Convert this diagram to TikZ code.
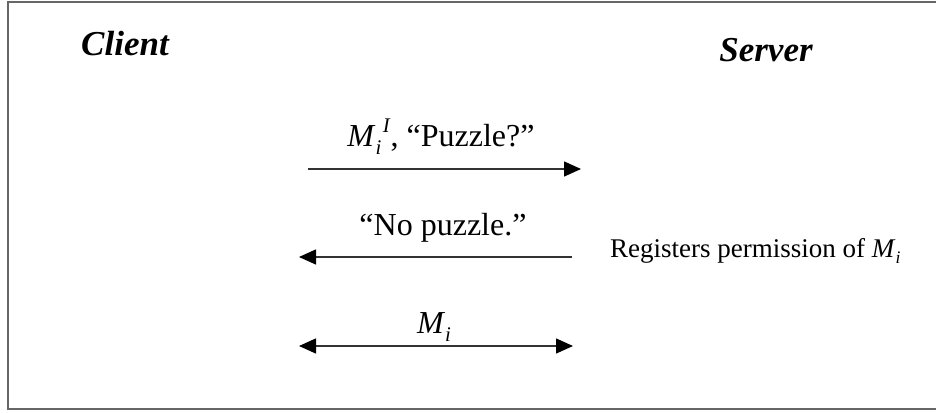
\documentclass[tikz,border=0pt]{standalone}
\usepackage{fontspec}
\usepackage{graphicx}
\setmainfont{Liberation Serif}
\usetikzlibrary{arrows.meta}
\newcommand{\Mi}{\textit{M}\raisebox{-0.25em}{\scalebox{0.65}{\textit{i}}}}
\newcommand{\MiI}{\textit{M}\rlap{\raisebox{-0.25em}{\scalebox{0.65}{\textit{i}}}}\raisebox{0.42em}{\scalebox{0.65}{\hspace{0.35em}\textit{I}}}}
\begin{document}
\begin{tikzpicture}[x=1pt,y=-1pt,
  frameline/.style={draw=black!60,line width=2pt},
  msg/.style={draw=black!80,line width=1.4pt},
  tip/.tip={Triangle[length=17pt,width=15pt,color=black]},
  title/.style={font=\fontsize{35}{39}\selectfont\bfseries\itshape,inner sep=0pt},
  lbl/.style={font=\fontsize{32}{36}\selectfont,inner sep=0pt},
  note/.style={font=\fontsize{27}{31}\selectfont,inner sep=0pt}]
\useasboundingbox (0,0) rectangle (936,412);
\fill[white] (0,0) rectangle (936,412);
\draw[frameline] (940,2.5) -- (8,2.5) -- (8,409) -- (940,409);
\node[title,anchor=base] (client) at (125,56) {Client};
\node[title,anchor=base] (server) at (766,61) {Server};
\coordinate (a1s) at (308,169);
\coordinate (a1e) at (581,169);
\coordinate (a2s) at (572,257);
\coordinate (a2e) at (299,257);
\coordinate (a3s) at (299,346);
\coordinate (a3e) at (573,346);
\draw[msg,-tip] (a1s) -- (a1e);
\draw[msg,-tip] (a2s) -- (a2e);
\draw[msg,tip-tip] (a3s) -- (a3e);
\node[lbl,anchor=base] (l1) at (441,146) {\MiI, “Puzzle?”};
\node[lbl,anchor=base] (l2) at (443,235) {“No puzzle.”};
\node[lbl,anchor=base] (l3) at (434,333) {\Mi};
\node[note,anchor=base west] (reg) at (610,257) {Registers permission of \Mi};
\end{tikzpicture}
\end{document}
